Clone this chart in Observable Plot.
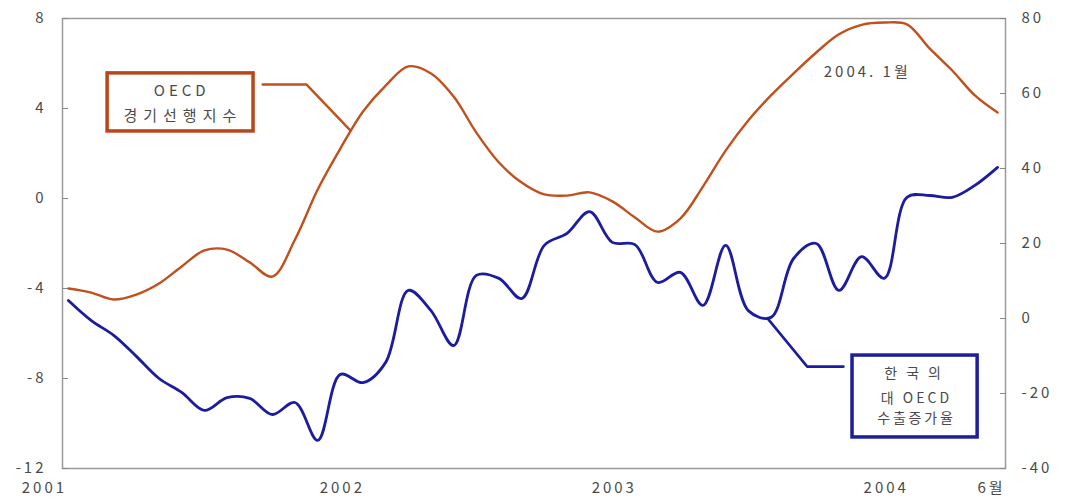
<!DOCTYPE html>
<html><head><meta charset="utf-8">
<script src="https://cdn.jsdelivr.net/npm/d3@7"></script>
<script src="https://cdn.jsdelivr.net/npm/@observablehq/plot@0.6"></script>
<style>body{margin:0;background:#fff}#chart svg{display:block}</style>
</head><body><div id="chart"></div>
<script>
// Months: index 0 = Jan 2001 ... 41 = Jun 2004
const months = d3.range(42);
// OECD composite leading indicator (left axis)
const oecdLeading = [-4.0,-4.18,-4.49,-4.27,-3.78,-3.02,-2.31,-2.27,-2.84,-3.47,-1.82,0.4,
  2.22,3.87,5.02,5.87,5.56,4.53,2.93,1.6,0.71,0.18,0.13,0.27,
  -0.13,-0.84,-1.47,-0.89,0.53,2.13,3.47,4.58,5.56,6.49,7.3,7.72,
  7.82,7.74,6.67,5.69,4.58,3.82];
// Korea's export growth to OECD, % (right axis)
const koreaExports = [4.8,-0.5,-4.5,-10.1,-16.0,-19.7,-24.5,-21.1,-21.3,-25.6,-22.4,-32.5,
  -14.9,-17.1,-11.7,7.5,2.1,-7.2,11.5,10.7,5.3,19.5,22.7,28.5,
  20.3,19.7,9.6,12.3,3.5,19.5,2.1,0.3,16.0,20.0,7.5,16.5,
  10.7,32.3,32.8,32.3,35.5,40.3];
const leftTicks = [-12,-8,-4,0,4,8];
const rightTicks = [-40,-20,0,20,40,60,80];
const yearTicks = [12,24,36];
const yearLabels = {0:"2001",12:"2002",24:"2003",36:"2004",41:"6월"};

const toLeft = r => (r + 40) / 6 - 12;
const fromLeft = v => Math.round((v + 12) * 6 - 40);

const oecdData = months.map((m,i) => ({m, v: oecdLeading[i]}));
const korData = months.map((m,i) => ({m, v: toLeft(koreaExports[i])}));

const ORANGE = "#c0501c", BLUE = "#1c1ca0", TXT = "#4a4a4a";
const FONT = "'Noto Sans CJK KR', 'Noto Sans', sans-serif";

// annotations (data units)
const oBox = {x1:1.73, x2:8.17, y1:2.98, y2:5.56};
const oText = [{m:5.0, v:4.78, t:"OECD"},{m:5.05, v:3.68, t:"경기선행지수"}];
const oLink = [{m:8.57,v:5.07},{m:10.5,v:5.07},{m:12.45,v:3.02}];
const bBox = {x1:34.6, x2:40.12, y1:-10.62, y2:-6.98};
const bText = [{m:37.45, v:-7.78, t:"한국의"},{m:37.42, v:-8.87, t:"대 OECD"},{m:37.42, v:-9.8, t:"수출증가율"}];
const bLink = [{m:34.2,v:-7.47},{m:32.6,v:-7.47},{m:30.85,v:-5.33}];
const peakNote = [{m:35.25, v:5.6, t:"2004. 1월"}];

const spacing = {"OECD":4, "경기선행지수":6, "한국의":9, "대 OECD":3, "수출증가율":2.8, "2004. 1월":3};

const axisStyle = {fontSize: 15, fill: TXT, fontFamily: FONT};

const chart = Plot.plot({
  width: 1069, height: 502,
  marginLeft: 62, marginRight: 64, marginTop: 18, marginBottom: 34,
  style: {fontFamily: FONT, background: "#fff"},
  x: {domain: [-0.26, 41.35]},
  y: {domain: [-12, 8]},
  marks: [
    Plot.frame({stroke: "#9a9a9a", strokeWidth: 1.5}),
    // left axis
    Plot.axisY(leftTicks, {anchor: "left", tickSize: 6, dx: 6, stroke: "#888", tickFormat: () => ""}),
    Plot.axisY(leftTicks, {anchor: "left", tickSize: 0, tickPadding: 16, ...axisStyle,
      tickFormat: d => String(d).replace("−", "-")}),
    // right axis
    Plot.axisY(rightTicks.map(toLeft), {anchor: "right", tickSize: 6, dx: -6, stroke: "#888", tickFormat: () => ""}),
    Plot.axisY(rightTicks.map(toLeft), {anchor: "right", tickSize: 0, tickPadding: 16, ...axisStyle,
      tickFormat: d => String(fromLeft(d)).replace("−", "-")}),
    // x axis labels
    Plot.axisX(yearTicks, {tickSize: 0, tickPadding: 14, dx: 2, ...axisStyle, tickFormat: d => yearLabels[d]}),
    Plot.axisX([0], {tickSize: 0, tickPadding: 14, dx: -24, ...axisStyle, tickFormat: d => yearLabels[d]}),
    Plot.axisX([41], {tickSize: 0, tickPadding: 14, dx: -6, ...axisStyle, tickFormat: d => yearLabels[d]}),
    // series
    Plot.line(oecdData, {x: "m", y: "v", stroke: ORANGE, strokeWidth: 2.4, curve: "catmull-rom"}),
    Plot.line(korData, {x: "m", y: "v", stroke: BLUE, strokeWidth: 2.8, curve: "catmull-rom"}),
    // orange annotation
    Plot.line(oLink, {x: "m", y: "v", stroke: ORANGE, strokeWidth: 2.4}),
    Plot.rect([oBox], {x1: "x1", x2: "x2", y1: "y1", y2: "y2", fill: "#fff", stroke: "#b8461a", strokeWidth: 3.5}),
    Plot.text(oText, {x: "m", y: "v", text: "t", fill: TXT, fontSize: 15}),
    // blue annotation
    Plot.line(bLink, {x: "m", y: "v", stroke: BLUE, strokeWidth: 2.6}),
    Plot.rect([bBox], {x1: "x1", x2: "x2", y1: "y1", y2: "y2", fill: "#fff", stroke: "#1e1e9c", strokeWidth: 3.5}),
    Plot.text(bText, {x: "m", y: "v", text: "t", fill: TXT, fontSize: 14}),
    // peak note
    Plot.text(peakNote, {x: "m", y: "v", text: "t", fill: TXT, fontSize: 15})
  ]
});
// letter spacing (Plot has no option for it)
d3.select(chart).selectAll("text").each(function() {
  const t = this.textContent;
  const s = spacing[t] !== undefined ? spacing[t] : 3;
  this.setAttribute("letter-spacing", s + "px");
});
document.getElementById("chart").appendChild(chart);
</script>
</body></html>
